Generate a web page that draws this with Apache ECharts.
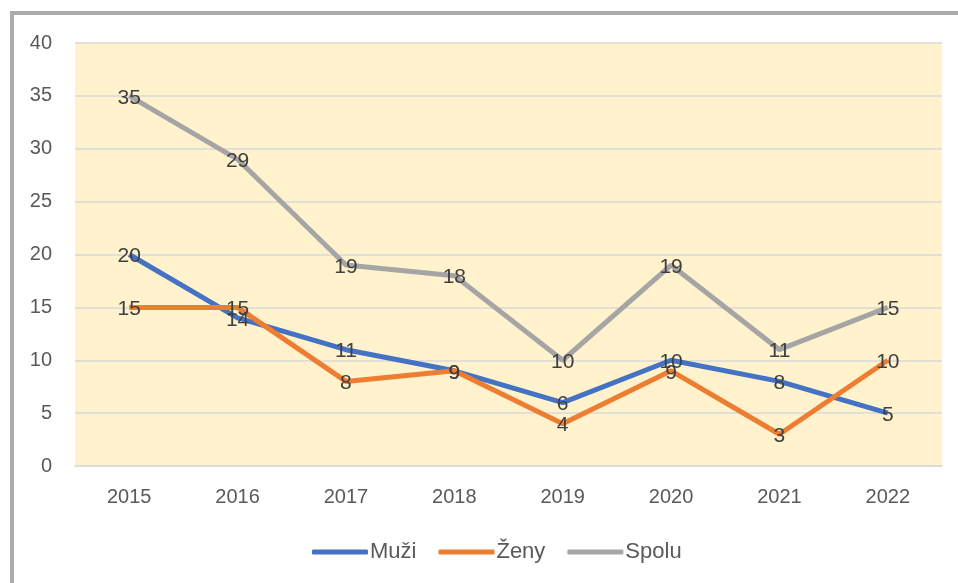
<!DOCTYPE html>
<html>
<head>
<meta charset="utf-8">
<script src="https://cdn.jsdelivr.net/npm/echarts@6/dist/echarts.min.js"></script>
<style>
  html, body {margin: 0; padding: 0; background: #fff;}
  #chart {width: 958px; height: 583px;}
</style>
</head>
<body>
<div id="chart"></div>
<script>
  // roky
  var years = ['2015', '2016', '2017', '2018', '2019', '2020', '2021', '2022'];
  // hodnoty
  var muzi = [20, 14, 11, 9, 6, 10, 8, 5];
  var zeny = [15, 15, 8, 9, 4, 9, 3, 10];
  var spolu = [35, 29, 19, 18, 10, 19, 11, 15];

  var font = 'Liberation Sans, Arial, sans-serif';

  function line(name, data, color) {
    return {
      name: name,
      type: 'line',
      data: data,
      symbol: 'circle',
      symbolSize: 0.1,
      showSymbol: true,
      lineStyle: {color: color, width: 5},
      itemStyle: {color: color},
      label: {
        show: true,
        position: 'inside',
        offset: [0, 2],
        color: '#404040',
        fontSize: 21,
        fontFamily: font
      }
    };
  }

  var chart = echarts.init(document.getElementById('chart'));
  chart.setOption({
    animation: false,
    graphic: [{
      type: 'rect',
      shape: {x: 12, y: 13, width: 1000, height: 700},
      style: {fill: 'none', stroke: '#ABABAB', lineWidth: 4},
      silent: true
    }],
    grid: {
      left: 75,
      right: 16,
      top: 43,
      bottom: 117,
      show: true,
      backgroundColor: '#FFF2CC',
      borderWidth: 0
    },
    xAxis: {
      type: 'category',
      data: years,
      axisLine: {show: true, lineStyle: {color: '#D9D9D9', width: 1.5}},
      axisTick: {show: false},
      axisLabel: {color: '#595959', fontSize: 20, fontFamily: font, margin: 21}
    },
    yAxis: {
      type: 'value',
      min: 0,
      max: 40,
      interval: 5,
      axisLine: {show: false},
      axisTick: {show: false},
      splitLine: {lineStyle: {color: '#D9D9D9', width: 1.5}},
      axisLabel: {color: '#595959', fontSize: 20, fontFamily: font, margin: 23}
    },
    legend: {
      bottom: 15,
      left: 307,
      icon: 'roundRect',
      itemWidth: 56,
      itemHeight: 5,
      itemGap: 22,
      textStyle: {color: '#595959', fontSize: 22, fontFamily: font, padding: [0, 0, 0, -3]},
      data: ['Muži', 'Ženy', 'Spolu']
    },
    series: [
      line('Muži', muzi, '#4472C4'),
      line('Ženy', zeny, '#ED7D31'),
      line('Spolu', spolu, '#A5A5A5')
    ]
  });
</script>
</body>
</html>
